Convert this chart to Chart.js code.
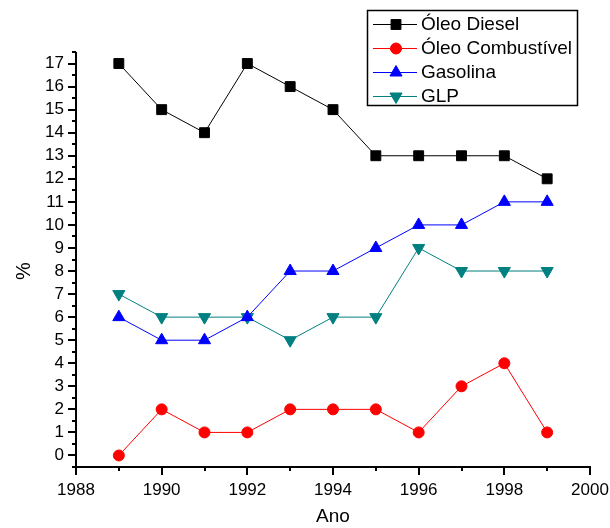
<!DOCTYPE html>
<html><head><meta charset="utf-8">
<script src="https://cdn.jsdelivr.net/npm/chart.js@4"></script>
<style>html,body{margin:0;padding:0;background:#fff}#wrap{width:610px;height:528px}</style>
</head><body><div id="wrap"><canvas id="c" width="610" height="528"></canvas></div>
<script>
const years = [1989,1990,1991,1992,1993,1994,1995,1996,1997,1998,1999];
const oleoDiesel = [17,15,14,17,16,15,13,13,13,13,12];
const oleoCombustivel = [0,2,1,1,2,2,2,1,3,4,1];
const gasolina = [6,5,5,6,8,8,9,10,10,11,11];
const glp = [7,6,6,6,5,6,6,9,8,8,8];
const seriesNames = ['Óleo Diesel','Óleo Combustível','Gasolina','GLP'];
const xTicks = [1988,1990,1992,1994,1996,1998,2000];
const yTicks = [0,1,2,3,4,5,6,7,8,9,10,11,12,13,14,15,16,17];
const xTitle = 'Ano';
const yTitle = '%';

const FONT = "'Liberation Sans', Arial, sans-serif";
const pts = arr => years.map((y,i)=>({x:y,y:arr[i]}));

const axesPlugin = {
  id:'axesPlugin',
  afterDraw(chart){
    const ctx=chart.ctx, xs=chart.scales.x, ys=chart.scales.y;
    const L=xs.left, B=ys.bottom, T=ys.top, R=xs.right;
    ctx.save();
    ctx.strokeStyle='#000'; ctx.lineWidth=2; ctx.lineCap='butt';
    ctx.beginPath();
    ctx.moveTo(L, T); ctx.lineTo(L, B+1);
    ctx.moveTo(L-1, B); ctx.lineTo(R+1, B);
    for(let v=-0.5; v<=17.5001; v+=0.5){
      const py=Math.round(ys.getPixelForValue(v));
      const len = Math.abs(v-Math.round(v))<1e-6 ? 8 : 4;
      ctx.moveTo(L-len, py); ctx.lineTo(L, py);
    }
    for(let v=1988; v<=2000; v++){
      const px=Math.round(xs.getPixelForValue(v));
      const len = v%2===0 ? 8 : 4;
      ctx.moveTo(px, B); ctx.lineTo(px, B+len);
    }
    ctx.stroke();
    ctx.fillStyle='#000';
    ctx.font='20px '+FONT;
    ctx.translate(24, 271);
    ctx.rotate(-Math.PI/2);
    ctx.textAlign='center'; ctx.textBaseline='middle';
    ctx.fillText(yTitle,0,0);
    ctx.restore();
  }
};

const legendPlugin = {
  id:'legendPlugin',
  afterDraw(chart){
    const ctx=chart.ctx;
    ctx.save();
    ctx.strokeStyle='#000'; ctx.lineWidth=1.5;
    ctx.strokeRect(367.5, 10.5, 210, 95);
    const rowsY=[24,48,72,96];
    chart.data.datasets.forEach((ds,i)=>{
      const y=rowsY[i];
      ctx.strokeStyle=ds.borderColor; ctx.lineWidth=1;
      ctx.beginPath(); ctx.moveTo(373,y+0.5); ctx.lineTo(417,y+0.5); ctx.stroke();
      ctx.fillStyle=ds.pointBackgroundColor; ctx.strokeStyle=ds.pointBorderColor; ctx.lineWidth=1;
      Chart.helpers.drawPoint(ctx,{pointStyle:ds.pointStyle,rotation:ds.pointRotation||0,radius:ds.pointRadius,borderWidth:1},396,y+0.5);
      ctx.fillStyle='#000';
      ctx.font='19px '+FONT;
      ctx.textAlign='left'; ctx.textBaseline='middle';
      ctx.fillText(ds.label,421,y+1);
    });
    ctx.restore();
  }
};

function mk(label,data,color,style,radius,rot){
  return {label, data:pts(data), borderColor:color, backgroundColor:color,
    pointBackgroundColor:color, pointBorderColor:color, pointStyle:style,
    pointRadius:radius, pointRotation:rot||0, borderWidth:1, pointBorderWidth:1,
    tension:0, fill:false};
}

new Chart(document.getElementById('c'),{
  type:'line',
  data:{datasets:[
    mk(seriesNames[0],oleoDiesel,'#000000','rect',7),
    mk(seriesNames[1],oleoCombustivel,'#ff0000','circle',5.5),
    mk(seriesNames[2],gasolina,'#0000ff','triangle',7),
    mk(seriesNames[3],glp,'#008080','triangle',7,180)
  ]},
  options:{
    responsive:false, animation:false, devicePixelRatio:1,
    layout:{padding:{top:52,right:0,left:0,bottom:0}},
    plugins:{legend:{display:false},tooltip:{enabled:false}},
    scales:{
      x:{type:'linear',min:1988,max:2000,
        afterBuildTicks:s=>{s.ticks=xTicks.map(v=>({value:v}));},
        afterFit:s=>{s.height=61; s.paddingRight=20; s.paddingLeft=0;},
        grid:{display:false,drawTicks:false}, border:{display:false},
        ticks:{color:'#000',font:{family:FONT,size:17},padding:13,maxRotation:0,autoSkip:false,callback:v=>String(v)},
        title:{display:true,text:xTitle,color:'#000',font:{family:FONT,size:19},padding:{top:2,bottom:0}}
      },
      y:{type:'linear',min:-0.5,max:17.5,
        afterBuildTicks:s=>{s.ticks=yTicks.map(v=>({value:v}));},
        afterFit:s=>{s.width=76; s.paddingTop=0; s.paddingBottom=0;},
        grid:{display:false,drawTicks:false}, border:{display:false},
        ticks:{color:'#000',font:{family:FONT,size:17},padding:12,autoSkip:false,callback:v=>String(v)}
      }
    }
  },
  plugins:[axesPlugin,legendPlugin]
});
</script></body></html>
